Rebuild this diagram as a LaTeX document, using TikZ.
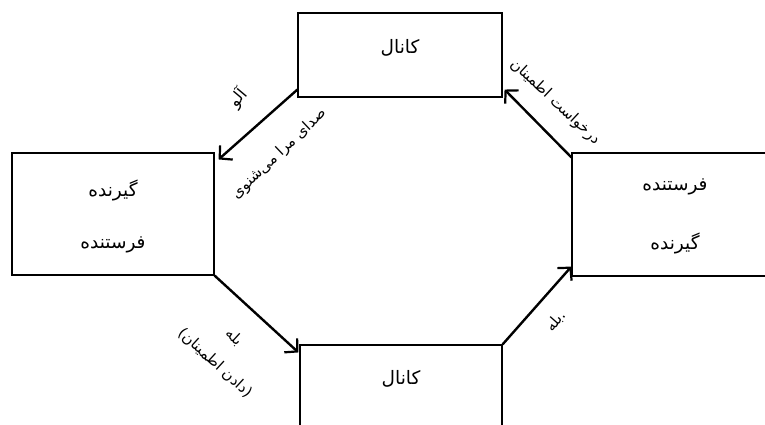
\documentclass[tikz,border=0pt]{standalone}
\usepackage{fontspec}
\usetikzlibrary{arrows.meta}
\TeXXeTstate=1
\newfontfamily\arabicfont[Script=Arabic]{DejaVu Sans}
\tikzset{
  box/.style={draw, line width=1.1pt, inner sep=0pt},
  boxtext/.style={font=\arabicfont\fontsize{18.5}{20}\selectfont, inner sep=0pt},
  lbl/.style={font=\arabicfont\fontsize{15}{17}\selectfont, inner sep=0pt, align=center},
  arr/.style={line width=2.4pt, -{Straight Barb[length=9pt,width=19pt,line width=2.2pt]}}
}
\begin{document}
\begin{tikzpicture}[x=1pt,y=1pt]
\useasboundingbox (0,0) rectangle (765,425);
\fill[white] (0,0) rectangle (765,425);
\clip (0,0) rectangle (765,425);
% boxes
\node[box, minimum width=204pt, minimum height=84pt] (top) at (400,370) {};
\node[box, minimum width=202pt, minimum height=122pt] (left) at (113,211) {};
\node[box, minimum width=204pt, minimum height=123pt] (right) at (674,210.5) {};
\node[box, minimum width=202pt, minimum height=84pt] (bottom) at (401,38) {};
% box texts
\node[boxtext] (ttop) at (400,377) {\beginR کانال\endR};
\node[boxtext] (tbot) at (401,46) {\beginR کانال\endR};
\node[boxtext] (tl1) at (113,235) {\beginR گیرنده\endR};
\node[boxtext] (tl2) at (113,180) {\beginR فرستنده\endR};
\node[boxtext] (tr1) at (675,238) {\beginR فرستنده\endR};
\node[boxtext] (tr2) at (675,182) {\beginR گیرنده\endR};
% arrows
\draw[arr] ([yshift=8pt]top.south west) -- ([xshift=4pt,yshift=-7pt]left.north east);
\draw[arr] ([yshift=-5pt]right.north west) -- ([xshift=2pt,yshift=8pt]top.south east);
\draw[arr] (left.south east) -- ([xshift=-1pt,yshift=-8pt]bottom.north west);
\draw[arr] (bottom.north east) -- ([yshift=10pt]right.south west);
% labels
\node[lbl, rotate=50, font=\arabicfont\fontsize{16}{18}\selectfont] (l1) at (238,327) {\beginR آلو\endR};
\node[lbl, rotate=43.5] (l2) at (279,271) {\beginR صدای مرا می‌شنوی\endR};
\node[lbl, rotate=-43] (l3) at (555,323) {\beginR درخواست اطمینان\endR};
\node[lbl, rotate=-42.5] (l4) at (234,88) {\beginR بله\endR};
\node[lbl, rotate=-42.5] (l5) at (215,62) {\beginR (دادن اطمینان)\endR};
\node[lbl, rotate=48.5] (l6) at (556,104) {\beginR بله\endR.};
\end{tikzpicture}
\end{document}
